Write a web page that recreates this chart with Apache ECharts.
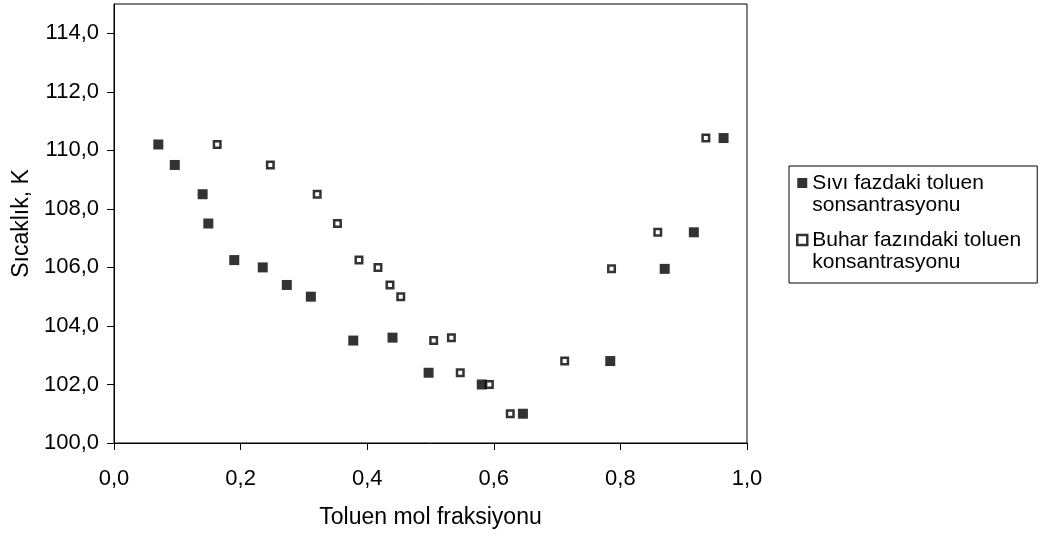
<!DOCTYPE html>
<html>
<head>
<meta charset="utf-8">
<script src="https://cdn.jsdelivr.net/npm/echarts@6/dist/echarts.min.js"></script>
<style>
html,body{margin:0;padding:0;background:#fff;}
#chart{width:1043px;height:536px;}
</style>
</head>
<body>
<div id="chart"></div>
<script>
// Sıvı fazdaki toluen konsantrasyonu (liquid)
var xLiquid = [0.070, 0.096, 0.140, 0.149, 0.190, 0.235, 0.273, 0.311, 0.378, 0.440, 0.497, 0.581, 0.646, 0.784, 0.870, 0.916, 0.963];
var yLiquid = [110.2, 109.5, 108.5, 107.5, 106.25, 106.0, 105.4, 105.0, 103.5, 103.6, 102.4, 102.0, 101.0, 102.8, 105.95, 107.2, 110.42];
// Buhar fazındaki toluen konsantrasyonu (vapor)
var xVapor = [0.163, 0.247, 0.321, 0.353, 0.387, 0.417, 0.436, 0.453, 0.505, 0.533, 0.547, 0.593, 0.626, 0.712, 0.786, 0.859, 0.935];
var yVapor = [110.2, 109.5, 108.5, 107.5, 106.25, 106.0, 105.4, 105.0, 103.5, 103.6, 102.4, 102.0, 101.0, 102.8, 105.95, 107.2, 110.42];

var seriesNames = ['Sıvı fazdaki toluen\nsonsantrasyonu', 'Buhar fazındaki toluen\nkonsantrasyonu'];
var xTicks = [0, 0.2, 0.4, 0.6, 0.8, 1.0];
var yTicks = [100, 102, 104, 106, 108, 110, 112, 114];
var xTitle = 'Toluen mol fraksiyonu';
var yTitle = 'Sıcaklık, K';

function zip(a, b) { return a.map(function (v, i) { return [v, b[i]]; }); }
function fmt(v) { return v.toFixed(1).replace('.', ','); }

var FONT = 'Liberation Sans';
var filledStyle = {color: '#000'};
var openStyle = {color: '#fff', borderColor: '#000', borderWidth: 2.5};

var chart = echarts.init(document.getElementById('chart'), null, {renderer: 'canvas'});
chart.setOption({
  animation: false,
  backgroundColor: '#fff',
  textStyle: {fontFamily: FONT},
  grid: {left: 114, right: 296, top: 4, bottom: 93, show: true, borderColor: '#000', borderWidth: 1, backgroundColor: 'transparent'},
  xAxis: {
    type: 'value', min: 0, max: 1, interval: 0.2,
    name: xTitle, nameLocation: 'middle', nameGap: 63,
    nameTextStyle: {fontFamily: FONT, fontSize: 23, color: '#000'},
    axisLine: {show: true, lineStyle: {color: '#000', width: 1}},
    axisTick: {show: true, length: 7, inside: false, customValues: xTicks, lineStyle: {color: '#000'}},
    axisLabel: {customValues: xTicks, formatter: fmt, fontFamily: FONT, fontSize: 22, color: '#000', margin: 25},
    splitLine: {show: false}
  },
  yAxis: {
    type: 'value', min: 100, max: 115, interval: 2,
    name: yTitle, nameLocation: 'middle', nameGap: 80, nameRotate: 90,
    nameTextStyle: {fontFamily: FONT, fontSize: 23, color: '#000'},
    axisLine: {show: true, lineStyle: {color: '#000', width: 1}},
    axisTick: {show: true, length: 7, inside: false, customValues: yTicks, lineStyle: {color: '#000'}},
    axisLabel: {customValues: yTicks, formatter: fmt, fontFamily: FONT, fontSize: 22, color: '#000', margin: 15},
    splitLine: {show: false}
  },
  legend: {
    orient: 'vertical', left: 789, top: 166,
    padding: [-16, 16, 10, 7], itemGap: -9,
    itemWidth: 10, itemHeight: 10,
    borderColor: '#000', borderWidth: 1,
    formatter: function (name) { return '\n' + name; },
    textStyle: {fontFamily: FONT, fontSize: 21, lineHeight: 22, color: '#000'},
    data: [
      {name: seriesNames[0], itemStyle: filledStyle},
      {name: seriesNames[1], itemStyle: openStyle}
    ]
  },
  series: [
    {
      name: seriesNames[0], type: 'scatter', symbol: 'rect', symbolSize: 10,
      itemStyle: filledStyle,
      data: zip(xLiquid, yLiquid)
    },
    {
      name: seriesNames[1], type: 'scatter', symbol: 'rect', symbolSize: 6.5,
      itemStyle: openStyle,
      data: zip(xVapor, yVapor)
    }
  ]
});
</script>
</body>
</html>
